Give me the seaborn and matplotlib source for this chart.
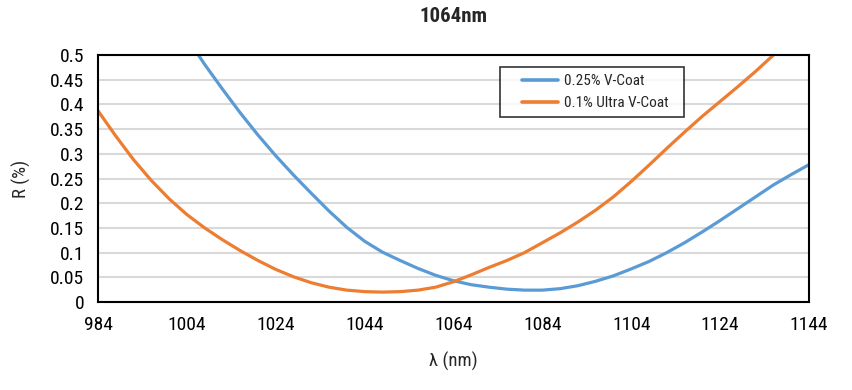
import numpy as np
import pandas as pd
import matplotlib
matplotlib.use("Agg")
import matplotlib.pyplot as plt
import seaborn as sns
from matplotlib import font_manager
from matplotlib.legend_handler import HandlerLine2D
from matplotlib.lines import Line2D

# ---- data ----
blue_wl = [1004, 1008, 1012, 1016, 1020, 1024, 1028, 1032, 1036, 1040, 1044, 1048,
           1052, 1056, 1060, 1064, 1068, 1072, 1076, 1080, 1084, 1088, 1092, 1096,
           1100, 1104, 1108, 1112, 1116, 1120, 1124, 1128, 1132, 1136, 1140, 1144]
blue_r = [0.535, 0.481, 0.431, 0.383, 0.338, 0.296, 0.257, 0.22, 0.184, 0.151, 0.123, 0.101,
          0.084, 0.068, 0.054, 0.043, 0.035, 0.03, 0.026, 0.024, 0.024, 0.027, 0.033, 0.042,
          0.053, 0.067, 0.082, 0.1, 0.12, 0.142, 0.165, 0.189, 0.213, 0.237, 0.258, 0.278]

orange_wl = [984, 988, 992, 996, 1000, 1004, 1008, 1012, 1016, 1020, 1024, 1028,
             1032, 1036, 1040, 1044, 1048, 1052, 1056, 1060, 1064, 1068, 1072, 1076,
             1080, 1084, 1088, 1092, 1096, 1100, 1104, 1108, 1112, 1116, 1120, 1124,
             1128, 1132, 1136, 1140]
orange_r = [0.387, 0.336, 0.288, 0.246, 0.209, 0.177, 0.15, 0.126, 0.104, 0.084, 0.066, 0.051,
            0.039, 0.03, 0.024, 0.021, 0.02, 0.021, 0.024, 0.03, 0.041, 0.055, 0.07, 0.084,
            0.1, 0.12, 0.14, 0.162, 0.186, 0.213, 0.244, 0.277, 0.311, 0.344, 0.376, 0.406,
            0.436, 0.467, 0.5, 0.535]

series_names = ["0.25% V-Coat", "0.1% Ultra V-Coat"]
x_ticks = [984, 1004, 1024, 1044, 1064, 1084, 1104, 1124, 1144]
y_ticks = [0, 0.05, 0.1, 0.15, 0.2, 0.25, 0.3, 0.35, 0.4, 0.45, 0.5]
y_tick_labels = ["0", "0.05", "0.1", "0.15", "0.2", "0.25", "0.3", "0.35", "0.4", "0.45", "0.5"]

df = pd.concat([
    pd.DataFrame({"wl": blue_wl, "R": blue_r, "series": series_names[0]}),
    pd.DataFrame({"wl": orange_wl, "R": orange_r, "series": series_names[1]}),
])

sns.set_theme(style="white")
available = {f.name for f in font_manager.fontManager.ttflist}
fam = None
for cand in ["Roboto Condensed", "Open Sans Condensed", "Noto Sans Condensed",
             "Liberation Sans Narrow", "Liberation Sans"]:
    if cand in available:
        fam = cand
        break
if fam is None:
    fam = "DejaVu Sans"
plt.rcParams["font.family"] = [fam, "DejaVu Sans"]

fig = plt.figure(figsize=(8.52, 3.9), dpi=100)
ax = fig.add_axes([98/852, 1-302/390, (809-98)/852, (302-55)/390])

sns.lineplot(data=df, x="wl", y="R", hue="series", palette=["#5B9BD5", "#ED7D31"],
             linewidth=2.3, ax=ax, sort=False, estimator=None)
for ln in ax.get_lines():
    ln.set_solid_joinstyle("round")

ax.set_xlim(984, 1144)
ax.set_ylim(0, 0.5)
ax.set_xticks(x_ticks)
ax.set_xticklabels([str(t) for t in x_ticks], fontsize=14)
ax.set_yticks(y_ticks)
ax.set_yticklabels(y_tick_labels, fontsize=14)
ax.tick_params(axis="x", length=0, pad=10, colors="black")
ax.tick_params(axis="y", length=0, pad=10, colors="black")
ax.yaxis.grid(True, color="#d9d9d9", linewidth=1.5)
ax.xaxis.grid(False)
ax.set_axisbelow(True)
for s in ax.spines.values():
    s.set_color("black")
    s.set_linewidth(1.5)

ax.set_xlabel("λ (nm)", fontsize=13.5, labelpad=13)
ax.set_ylabel("R (%)", fontsize=13.5, labelpad=14)
ax.set_title("1064nm", fontsize=15, fontweight="bold", pad=23.5)

x0 = (500 - 98) / 711
w = (684 - 500) / 711
top = 1 - (67 - 55) / 247
fs = 11
leg = ax.legend(loc="upper left", bbox_to_anchor=(x0, top - 0.3, w, 0.3), mode="expand",
                borderaxespad=0, fontsize=fs, frameon=True, fancybox=False, edgecolor="black",
                handlelength=3.35, borderpad=0.45, labelspacing=0.55, handletextpad=0.4,
                handler_map={Line2D: HandlerLine2D(xpad=1.0)})
leg.get_frame().set_linewidth(1.2)
for line in leg.get_lines():
    line.set_linewidth(2.6)

fig.savefig("out.png", dpi=100)
